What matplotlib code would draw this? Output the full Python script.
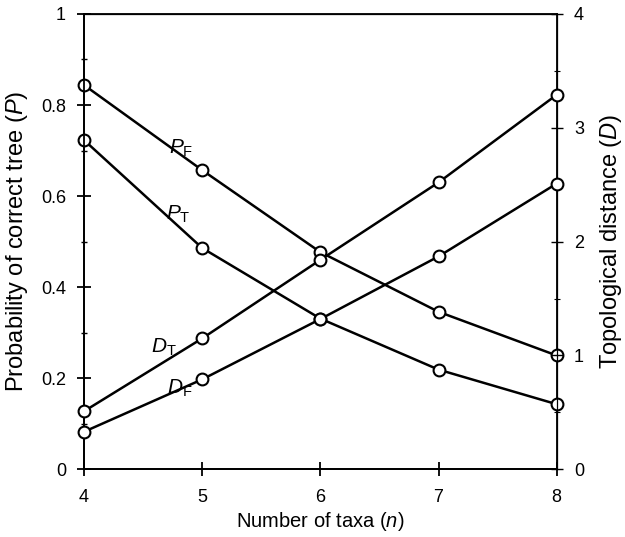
import matplotlib.pyplot as plt
from matplotlib.ticker import MultipleLocator

plt.rcParams['font.family'] = ['Liberation Sans', 'DejaVu Sans']
plt.rcParams['mathtext.fontset'] = 'custom'
plt.rcParams['mathtext.rm'] = 'Liberation Sans'
plt.rcParams['mathtext.it'] = 'Liberation Sans:italic'

# Data
n_taxa = [4, 5, 6, 7, 8]
p_f = [0.844, 0.657, 0.477, 0.346, 0.250]
p_t = [0.723, 0.486, 0.331, 0.219, 0.143]
d_t = [0.51, 1.15, 1.84, 2.52, 3.29]
d_f = [0.33, 0.79, 1.32, 1.87, 2.51]

fig = plt.figure(figsize=(6.25, 5.37), dpi=100)
ax = fig.add_axes([0.1344, 0.126, 0.7563, 0.848])
ax2 = ax.twinx()

style = dict(color='black', lw=1.8, marker='o', markersize=8.5,
             markerfacecolor='white', markeredgecolor='black', markeredgewidth=1.5,
             clip_on=False, zorder=3)
ax.plot(n_taxa, p_f, **style)
ax.plot(n_taxa, p_t, **style)
ax2.plot(n_taxa, d_t, **style)
ax2.plot(n_taxa, d_f, **style)

ax.set_xlim(4, 8)
ax.set_ylim(0, 1)
ax2.set_ylim(0, 4)
ax.set_xticks(n_taxa)
ax.set_yticks([0, 0.2, 0.4, 0.6, 0.8, 1])
ax.set_yticklabels(['0', '0.2', '0.4', '0.6', '0.8', '1'])
ax.yaxis.set_minor_locator(MultipleLocator(0.1))
ax2.set_yticks([0, 1, 2, 3, 4])
ax2.yaxis.set_minor_locator(MultipleLocator(0.5))

for a in (ax, ax2):
    for s in a.spines.values():
        s.set_linewidth(1.3)
ax2.spines['top'].set_linewidth(0.9)
ax2.spines['right'].set_linewidth(0.9)
ax.tick_params(axis='both', which='major', direction='inout', length=10, width=1.3, labelsize=13, pad=8)
ax.tick_params(axis='x', which='major', pad=9)
ax.tick_params(axis='y', which='minor', direction='inout', length=5, width=1)
ax2.tick_params(axis='y', which='major', direction='inout', length=9, width=1, labelsize=13, pad=8)
ax2.tick_params(axis='y', which='minor', direction='inout', length=5, width=0.8)

ax.set_xlabel('Number of taxa ($\\mathit{n}$)', fontsize=14.5, labelpad=3)
ax.set_ylabel('Probability of correct tree ($\\mathit{P}$)', fontsize=17, labelpad=8)
ax2.set_ylabel('Topological distance ($\\mathit{D}$)', fontsize=17, labelpad=10)

lab = dict(fontsize=15, ha='left', va='center')
ax.text(4.72, 0.705, '$\\mathit{P}_{\\mathrm{F}}$', **lab)
ax.text(4.69, 0.56, '$\\mathit{P}_{\\mathrm{T}}$', **lab)
ax.text(4.57, 0.268, '$\\mathit{D}_{\\mathrm{T}}$', **lab)
ax.text(4.70, 0.178, '$\\mathit{D}_{\\mathrm{F}}$', **lab)

fig.savefig('out.png', dpi=100)
